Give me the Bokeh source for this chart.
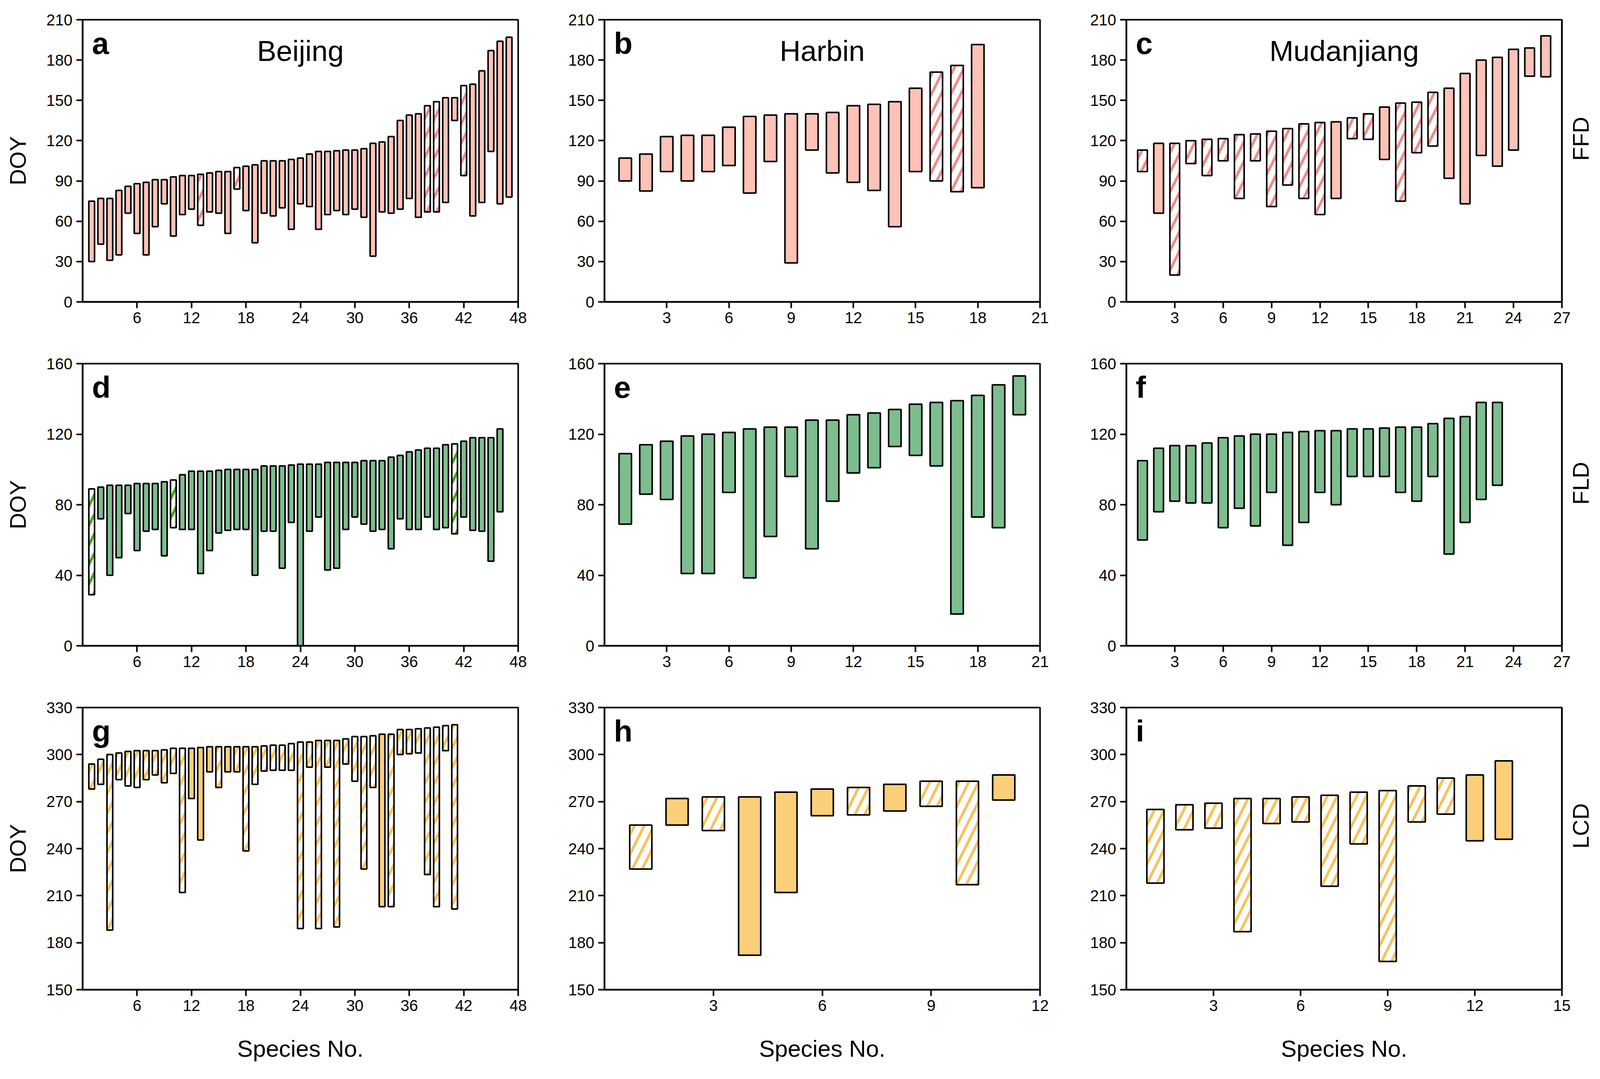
from math import pi
from bokeh.plotting import figure
from bokeh.models import ColumnDataSource, Label, FixedTicker, Range1d, LinearAxis
from bokeh.layouts import gridplot
from bokeh.embed import file_html
from bokeh.resources import INLINE

# ---------------- data (species are numbered 1..n) ----------------
# Beijing FFD
bj_ffd_start = [30, 43, 31, 35, 66, 51, 35, 56, 73, 49, 65, 69, 57, 67, 66, 51, 84, 68, 44, 66,
                64, 70, 54, 73, 71, 54, 65, 68, 65, 69, 63, 34, 67, 66, 69, 77, 63, 67, 67, 74,
                135, 94, 64, 74, 112, 73, 78]
bj_ffd_end = [75, 77, 77, 83, 86, 88, 89, 91, 91, 93, 94, 94, 95, 96, 97, 97, 100, 101, 102, 105,
              105, 105, 106, 107, 110, 112, 112, 112.5, 113, 113, 114, 118, 119, 123, 135, 139, 140, 146, 149, 152,
              152, 161, 162, 172, 187, 194, 197]
bj_ffd_hatched = [13, 17, 38, 39, 42]

# Harbin FFD
hb_ffd_start = [90, 82.5, 97, 90, 97, 101.5, 81, 104.5, 29, 113, 96, 89, 83, 56, 97, 90, 82, 85]
hb_ffd_end = [107, 110, 123, 124, 124, 130, 138, 139, 140, 140, 141, 146, 147, 149, 159, 171, 176, 191.5]
hb_ffd_hatched = [16, 17]

# Mudanjiang FFD
mdj_ffd_start = [97, 66, 20, 103, 94, 105, 77, 105, 71, 87, 77, 65, 77, 121.5, 121, 106, 75, 111, 116, 92,
                 73, 109, 101, 113, 168, 167.5]
mdj_ffd_end = [113, 118, 118, 120, 121, 121.5, 124.5, 125, 127, 129, 132.5, 133.5, 134, 137, 140, 145, 148, 148.6, 156, 159,
               170, 180, 182, 188, 189, 198]
mdj_ffd_hatched = [1, 3, 4, 5, 6, 7, 8, 9, 10, 11, 12, 14, 15, 17, 18, 19]

# Beijing FLD
bj_fld_start = [29, 72, 40, 50, 75, 54, 65, 66, 51, 67, 66, 66, 41, 54, 64, 65.5, 66, 66, 40, 65,
                65, 44, 70, -3, 65, 73, 43, 44, 66, 73, 69, 65, 66, 55, 72, 66, 66, 73, 66, 67,
                63.5, 73, 65.5, 65, 48, 76]
bj_fld_end = [89, 90, 91, 91, 91, 92, 92, 92, 93, 94, 97, 99, 99, 99, 99.5, 100, 100, 100, 100, 102,
              102, 102, 102.5, 103, 103, 103, 104, 104, 104, 104, 105, 105, 105, 107, 108, 110, 111, 112, 112, 114,
              114.5, 116, 118, 118, 118, 123]
bj_fld_hatched = [1, 10, 41]

# Harbin FLD
hb_fld_start = [69, 86, 83, 41, 41, 87, 38.5, 62, 96, 55, 82, 98, 101, 113, 108, 102, 18, 73, 67, 131]
hb_fld_end = [109, 114, 116, 119, 120, 121, 123, 124, 124, 128, 128, 131, 132, 134, 137, 138, 139, 142, 148, 153]
hb_fld_hatched = []

# Mudanjiang FLD
mdj_fld_start = [60, 76, 82, 81, 81, 67, 78, 68, 87, 57, 70, 87, 80, 96, 96, 96, 87, 82, 96, 52, 70, 83, 91]
mdj_fld_end = [105, 112, 113.5, 113.5, 115, 118, 119, 120, 120, 121, 121.5, 122, 122, 123, 123, 123.5, 124, 124, 126, 129,
               130, 138, 138]
mdj_fld_hatched = []

# Beijing LCD
bj_lcd_start = [278, 281, 188, 284, 280, 279, 284, 287, 282, 288, 212, 272, 245.5, 289, 279, 289, 289, 238.5, 281, 289.5,
                290, 290, 290, 189, 292, 189, 292, 190, 294, 283, 227, 279, 203, 203, 300, 300.5, 301, 223.5, 203, 302.5,
                201.5]
bj_lcd_end = [294, 297, 300, 301, 302, 302.5, 302.5, 302.5, 303, 304, 304, 304, 304.5, 305, 305, 305, 305, 305, 305, 305.5,
              306, 306, 307, 308, 308, 309, 309, 309, 310, 311.5, 311.5, 312, 313, 313, 316, 316, 316.5, 317, 317.5, 318.5,
              319]
bj_lcd_solid = [12, 13, 14, 16, 33]
bj_lcd_hatched = [k for k in range(1, 42) if k not in bj_lcd_solid]

# Harbin LCD
hb_lcd_start = [227, 255, 251.5, 172, 212, 261, 261.5, 264, 267, 217, 271]
hb_lcd_end = [255, 272, 273, 273, 276, 278, 279, 281, 283, 283, 287]
hb_lcd_hatched = [1, 3, 7, 9, 10]

# Mudanjiang LCD
mdj_lcd_start = [218, 252, 253, 187, 256, 257, 216, 243, 168, 257, 262, 245, 246]
mdj_lcd_end = [265, 268, 269, 272, 272, 273, 274, 276, 277, 280, 285, 287, 296]
mdj_lcd_hatched = [1, 2, 3, 4, 5, 6, 7, 8, 9, 10, 11]

cities = ["Beijing", "Harbin", "Mudanjiang"]
phases = ["FFD", "FLD", "LCD"]
letters = ["a", "b", "c", "d", "e", "f", "g", "h", "i"]

ffd_ticks = [0, 30, 60, 90, 120, 150, 180, 210]
fld_ticks = [0, 40, 80, 120, 160]
lcd_ticks = [150, 180, 210, 240, 270, 300, 330]

# ---------------- styling ----------------
PINK, PINK_H = "#FFC2B7", "#F28A86"
GREEN, GREEN_H = "#7DBD8E", "#45A812"
ORANGE, ORANGE_H = "#FBCF7A", "#F8C257"
FONT = "Liberation Sans"

FW, FH = 1115, 722
LEFT = [211, 181, 181]
RIGHT = [40, 40, 119]
TOP = [50, 58, 58]
BOTTOM = [100, 100, 208]


def style_axis(ax):
    ax.major_label_text_font = FONT
    ax.major_label_text_font_size = "40px"
    ax.major_label_text_color = "black"
    ax.axis_line_width = 4
    ax.axis_line_color = "black"
    ax.major_tick_line_width = 4
    ax.major_tick_line_color = "black"
    ax.major_tick_out = 16
    ax.major_tick_in = 0
    ax.minor_tick_out = 0
    ax.minor_tick_in = 0
    ax.minor_tick_line_color = None
    ax.major_label_standoff = 10
    ax.axis_label_text_font = FONT
    ax.axis_label_text_font_style = "normal"
    ax.axis_label_text_color = "black"


def panel(row, col, starts, ends, hatched, fill, hcolor, xmax, xticks, yr, yticks, width):
    n = len(starts)
    xs = list(range(1, n + 1))
    hp = ["/" if k in hatched else " " for k in xs]
    fc = ["white" if k in hatched else fill for k in xs]
    src = ColumnDataSource(dict(x=xs, bottom=starts, top=ends, hp=hp, fc=fc))

    p = figure(frame_width=FW, frame_height=FH,
               x_range=Range1d(0, xmax), y_range=Range1d(*yr),
               output_backend="svg", toolbar_location=None,
               min_border_left=LEFT[col], min_border_right=RIGHT[col],
               min_border_top=TOP[row], min_border_bottom=BOTTOM[row])
    p.vbar(x="x", bottom="bottom", top="top", width=width, source=src,
           fill_color="fc", line_color="black", line_width=4,
           hatch_pattern="hp", hatch_color=hcolor, hatch_scale=50, hatch_weight=7)

    p.xgrid.visible = False
    p.ygrid.visible = False
    p.outline_line_color = "black"
    p.outline_line_width = 4
    p.outline_line_alpha = 1.0
    p.background_fill_color = "white"
    p.border_fill_color = "white"

    p.xaxis.ticker = FixedTicker(ticks=xticks)
    p.yaxis.ticker = FixedTicker(ticks=yticks)
    style_axis(p.xaxis[0])
    style_axis(p.yaxis[0])

    if col == 0:
        p.yaxis.axis_label = "DOY"
        p.yaxis.axis_label_text_font_size = "58px"
        p.yaxis.axis_label_standoff = 38
    if row == 2:
        p.xaxis.axis_label = "Species No."
        p.xaxis.axis_label_text_font_size = "60px"
        p.xaxis.axis_label_standoff = 60

    p.add_layout(Label(x=0, y=yr[1], x_offset=24, y_offset=-60,
                       text=letters[row * 3 + col], text_font=FONT, text_font_style="bold",
                       text_color="black",
                       text_font_size="78px", text_baseline="alphabetic", text_align="left"))
    if row == 0:
        p.add_layout(Label(x=xmax / 2.0, y=yr[1], y_offset=-80, text=cities[col],
                           text_font=FONT, text_font_size="74px", text_color="black",
                           text_baseline="alphabetic", text_align="center"))
    if col == 2:
        rax = LinearAxis(ticker=FixedTicker(ticks=[]), axis_label=phases[row])
        style_axis(rax)
        rax.major_label_text_font_size = "0px"
        rax.major_tick_line_color = None
        rax.axis_label_text_font_size = "58px"
        rax.axis_label_standoff = 48
        if hasattr(LinearAxis, "axis_label_orientation"):
            rax.axis_label_orientation = pi / 2
        p.add_layout(rax, "right")
    return p


t48 = [6, 12, 18, 24, 30, 36, 42, 48]
t21 = [3, 6, 9, 12, 15, 18, 21]
t27 = [3, 6, 9, 12, 15, 18, 21, 24, 27]
t12 = [3, 6, 9, 12]
t15 = [3, 6, 9, 12, 15]

pa = panel(0, 0, bj_ffd_start, bj_ffd_end, bj_ffd_hatched, PINK, PINK_H, 48, t48, (0, 210), ffd_ticks, 0.63)
pb = panel(0, 1, hb_ffd_start, hb_ffd_end, hb_ffd_hatched, PINK, PINK_H, 21, t21, (0, 210), ffd_ticks, 0.6)
pc = panel(0, 2, mdj_ffd_start, mdj_ffd_end, mdj_ffd_hatched, PINK, PINK_H, 27, t27, (0, 210), ffd_ticks, 0.6)
pd = panel(1, 0, bj_fld_start, bj_fld_end, bj_fld_hatched, GREEN, GREEN_H, 48, t48, (0, 160), fld_ticks, 0.63)
pe = panel(1, 1, hb_fld_start, hb_fld_end, hb_fld_hatched, GREEN, GREEN_H, 21, t21, (0, 160), fld_ticks, 0.6)
pf = panel(1, 2, mdj_fld_start, mdj_fld_end, mdj_fld_hatched, GREEN, GREEN_H, 27, t27, (0, 160), fld_ticks, 0.6)
pg = panel(2, 0, bj_lcd_start, bj_lcd_end, bj_lcd_hatched, ORANGE, ORANGE_H, 48, t48, (150, 330), lcd_ticks, 0.63)
ph = panel(2, 1, hb_lcd_start, hb_lcd_end, hb_lcd_hatched, ORANGE, ORANGE_H, 12, t12, (150, 330), lcd_ticks, 0.61)
pi_ = panel(2, 2, mdj_lcd_start, mdj_lcd_end, mdj_lcd_hatched, ORANGE, ORANGE_H, 15, t15, (150, 330), lcd_ticks, 0.59)

grid = gridplot([[pa, pb, pc], [pd, pe, pf], [pg, ph, pi_]], toolbar_location=None)

open("out.html", "w").write(file_html(grid, INLINE))
